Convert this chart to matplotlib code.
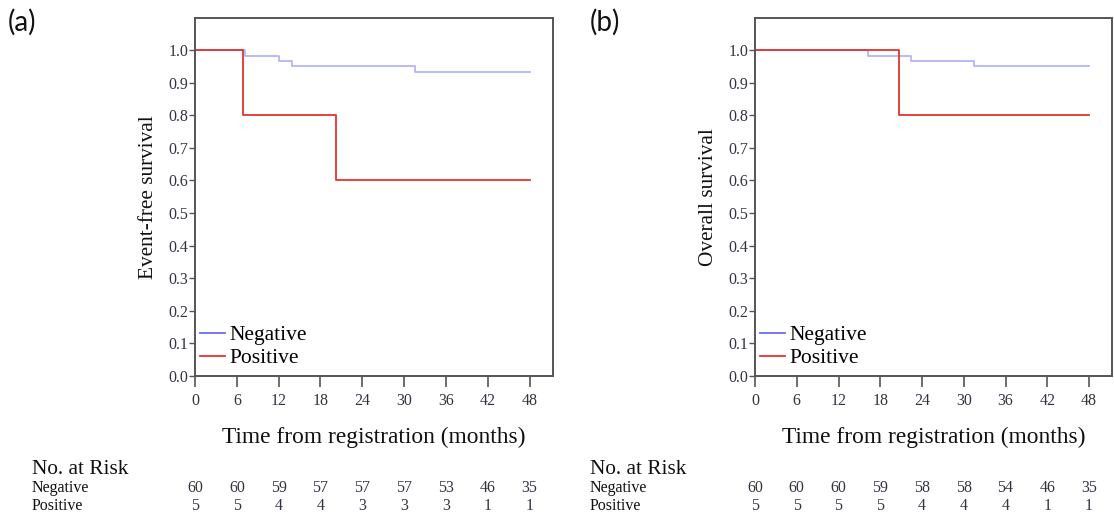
import matplotlib
matplotlib.use("Agg")
import matplotlib.pyplot as plt
from matplotlib.lines import Line2D
from matplotlib.transforms import blended_transform_factory

# ======================================================
# DATA
# ======================================================
month_ticks = [0, 6, 12, 18, 24, 30, 36, 42, 48]

# (a) event-free survival
efs_neg_t = [0, 7.2, 12.1, 13.9, 31.5, 48]
efs_neg_s = [1.0, 0.983, 0.967, 0.950, 0.933, 0.933]
efs_pos_t = [0, 6.9, 20.3, 48]
efs_pos_s = [1.0, 0.8, 0.6, 0.6]
efs_risk_neg = [60, 60, 59, 57, 57, 57, 53, 46, 35]
efs_risk_pos = [5, 5, 4, 4, 3, 3, 3, 1, 1]

# (b) overall survival
os_neg_t = [0, 16.2, 22.4, 31.5, 48]
os_neg_s = [1.0, 0.983, 0.967, 0.950, 0.950]
os_pos_t = [0, 20.7, 48]
os_pos_s = [1.0, 0.8, 0.8]
os_risk_neg = [60, 60, 60, 59, 58, 58, 54, 46, 35]
os_risk_pos = [5, 5, 5, 5, 4, 4, 4, 1, 1]

# ======================================================
# STYLE
# ======================================================
serif = "Liberation Serif"
neg_color = "#b4b4f6"
neg_legend = "#6c6cf0"
pos_color = "#e83030"
spine_color = "#555555"
text_color = "#333340"

fig = plt.figure(figsize=(11.14, 5.14), dpi=100)
W, H = 1114, 514

panels = [
    dict(tag="(a)", x0=195, x1=552.5, ylabel="Event-free survival",
         neg=(efs_neg_t, efs_neg_s), pos=(efs_pos_t, efs_pos_s),
         risk=(efs_risk_neg, efs_risk_pos), tagx=8, rowx=32),
    dict(tag="(b)", x0=755, x1=1112, ylabel="Overall survival",
         neg=(os_neg_t, os_neg_s), pos=(os_pos_t, os_pos_s),
         risk=(os_risk_neg, os_risk_pos), tagx=590, rowx=590),
]

top_px, bot_px = 17.5, 376

for p in panels:
    ax = fig.add_axes([p["x0"] / W, 1 - bot_px / H,
                       (p["x1"] - p["x0"]) / W, (bot_px - top_px) / H])
    ax.step(p["neg"][0], p["neg"][1], where="post", color=neg_color, lw=1.3)
    ax.step(p["pos"][0], p["pos"][1], where="post", color=pos_color, lw=1.3)

    ax.set_xlim(0, 51.3)
    ax.set_ylim(0, 1.1)
    ax.set_xticks(month_ticks)
    ax.set_yticks([i / 10 for i in range(11)])
    ax.set_yticklabels([f"{i / 10:.1f}" for i in range(11)])
    for s in ax.spines.values():
        s.set_color(spine_color)
        s.set_linewidth(1.4)
    ax.tick_params(axis="x", length=8, width=1.2, color=spine_color, pad=4,
                   labelsize=11.5, labelcolor=text_color)
    ax.tick_params(axis="y", length=4, width=1.0, color=spine_color, pad=1,
                   labelsize=11.5, labelcolor=text_color)
    for lab in ax.get_xticklabels() + ax.get_yticklabels():
        lab.set_fontfamily(serif)

    ax.set_ylabel(p["ylabel"], fontfamily=serif, fontsize=15.3, labelpad=7,
                  color="#111111")
    ax.set_xlabel("Time from registration (months)", fontfamily=serif,
                  fontsize=16.8, labelpad=13, color="#111111")

    handles = [Line2D([], [], color=neg_legend, lw=1.3),
               Line2D([], [], color=pos_color, lw=1.3)]
    ax.legend(handles, ["Negative", "Positive"], loc="lower left",
              bbox_to_anchor=(0.014, 0.022), frameon=False, handlelength=1.15,
              handletextpad=0.2, labelspacing=0.12, borderpad=0.0,
              borderaxespad=0.0, prop={"family": serif, "size": 15.5})

    # panel tag
    fig.text(p["tagx"] / W, 1 - 22 / H, p["tag"], fontfamily="Lato",
             fontsize=20, va="center", ha="left", color="#111111")

    # numbers at risk table
    fig.text(p["rowx"] / W, 1 - 469 / H, "No. at Risk", fontfamily=serif,
             fontsize=15.3, va="center", ha="left", color="#111111")
    fig.text(p["rowx"] / W, 1 - 487.5 / H, "Negative", fontfamily=serif,
             fontsize=11.5, va="center", ha="left", color="#111111")
    fig.text(p["rowx"] / W, 1 - 505.5 / H, "Positive", fontfamily=serif,
             fontsize=11.5, va="center", ha="left", color="#111111")
    tr = blended_transform_factory(ax.transData, fig.transFigure)
    for m, n_neg, n_pos in zip(month_ticks, p["risk"][0], p["risk"][1]):
        ax.text(m, 1 - 487.5 / H, str(n_neg), transform=tr, ha="center",
                va="center", fontfamily=serif, fontsize=11.5,
                color=text_color, clip_on=False)
        ax.text(m, 1 - 505.5 / H, str(n_pos), transform=tr, ha="center",
                va="center", fontfamily=serif, fontsize=11.5,
                color=text_color, clip_on=False)

fig.savefig("out.png", dpi=100)
